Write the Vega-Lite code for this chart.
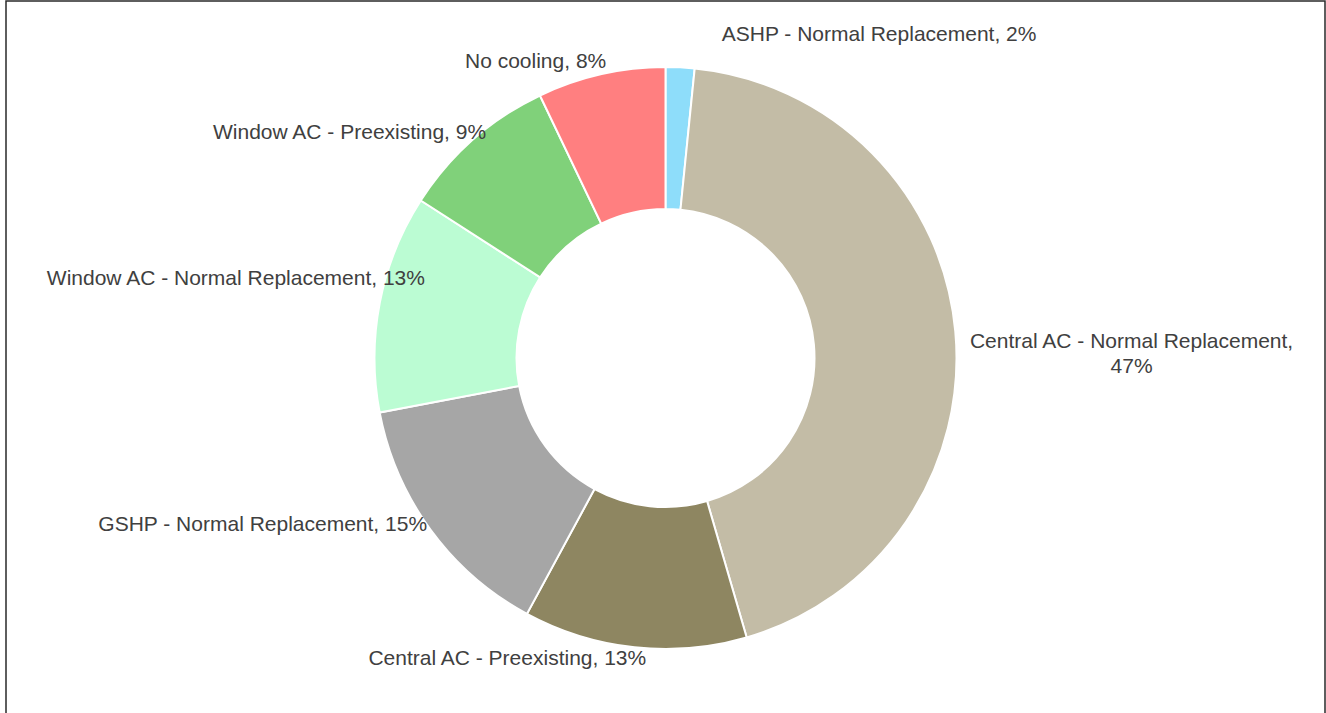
{
  "$schema": "https://vega.github.io/schema/vega-lite/v6.json",
  "width": 1319,
  "height": 714,
  "autosize": {"type": "none"},
  "padding": {"left": 6, "top": 1, "right": 1, "bottom": 0},
  "background": "white",
  "config": {
    "view": {"stroke": null},
    "text": {"font": "Liberation Sans", "fontSize": 21, "fill": "#404040"}
  },
  "datasets": {
    "slices": [
      {"idx": 1, "cat": "ASHP - Normal Replacement", "value": 1.6, "label": "ASHP - Normal Replacement, 2%"},
      {"idx": 2, "cat": "Central AC - Normal Replacement", "value": 43.9, "label": "Central AC - Normal Replacement,\n47%"},
      {"idx": 3, "cat": "Central AC - Preexisting", "value": 12.4, "label": "Central AC - Preexisting, 13%"},
      {"idx": 4, "cat": "GSHP - Normal Replacement", "value": 14.1, "label": "GSHP - Normal Replacement, 15%"},
      {"idx": 5, "cat": "Window AC - Normal Replacement", "value": 12.1, "label": "Window AC - Normal Replacement, 13%"},
      {"idx": 6, "cat": "Window AC - Preexisting", "value": 8.8, "label": "Window AC - Preexisting, 9%"},
      {"idx": 7, "cat": "No cooling", "value": 7.1, "label": "No cooling, 8%"}
    ],
    "frame": [{"name": "frame"}]
  },
  "data": {"name": "slices"},
  "layer": [
    {
      "data": {"name": "frame"},
      "mark": {"type": "rect", "fill": null, "stroke": "#2a2a2a", "strokeWidth": 1.5},
      "encoding": {}
    },
    {
      "mark": {"type": "arc", "outerRadius": 291, "innerRadius": 149, "stroke": "white", "strokeWidth": 2},
      "encoding": {
        "theta": {"field": "value", "type": "quantitative", "stack": true},
        "order": {"field": "idx", "type": "quantitative", "sort": "ascending"},
        "color": {
          "field": "cat", "type": "nominal", "legend": null,
          "scale": {
            "domain": ["ASHP - Normal Replacement", "Central AC - Normal Replacement", "Central AC - Preexisting", "GSHP - Normal Replacement", "Window AC - Normal Replacement", "Window AC - Preexisting", "No cooling"],
            "range": ["#8EDDFA", "#C3BCA6", "#8E8661", "#A6A6A6", "#BBFCD3", "#80D17A", "#FF7F80"]
          }
        }
      }
    },
    {
      "mark": {"type": "text", "align": "left", "baseline": "middle", "dx": 40},
      "encoding": {
        "theta": {"field": "value", "type": "quantitative", "stack": true},
        "order": {"field": "idx", "type": "quantitative", "sort": "ascending"},
        "radius": {"value": 323},
        "text": {"condition": {"test": "datum.idx === 1", "field": "label"}, "value": ""}
      }
    },
    {
      "mark": {"type": "text", "align": "center", "baseline": "middle", "lineBreak": "\n", "lineHeight": 25, "dy": 27},
      "encoding": {
        "theta": {"field": "value", "type": "quantitative", "stack": true},
        "order": {"field": "idx", "type": "quantitative", "sort": "ascending"},
        "radius": {"value": 468},
        "text": {"condition": {"test": "datum.idx === 2", "field": "label"}, "value": ""}
      }
    },
    {
      "mark": {"type": "text", "align": "right", "baseline": "middle", "dx": 13},
      "encoding": {
        "theta": {"field": "value", "type": "quantitative", "stack": true},
        "order": {"field": "idx", "type": "quantitative", "sort": "ascending"},
        "radius": {"value": 303},
        "text": {"condition": {"test": "datum.idx === 3", "field": "label"}, "value": ""}
      }
    },
    {
      "mark": {"type": "text", "align": "right", "baseline": "middle", "dx": -10},
      "encoding": {
        "theta": {"field": "value", "type": "quantitative", "stack": true},
        "order": {"field": "idx", "type": "quantitative", "sort": "ascending"},
        "radius": {"value": 283},
        "text": {"condition": {"test": "datum.idx === 4", "field": "label"}, "value": ""}
      }
    },
    {
      "mark": {"type": "text", "align": "right", "baseline": "middle", "dy": -32},
      "encoding": {
        "theta": {"field": "value", "type": "quantitative", "stack": true},
        "order": {"field": "idx", "type": "quantitative", "sort": "ascending"},
        "radius": {"value": 245},
        "text": {"condition": {"test": "datum.idx === 5", "field": "label"}, "value": ""}
      }
    },
    {
      "mark": {"type": "text", "align": "right", "baseline": "middle", "dx": 19},
      "encoding": {
        "theta": {"field": "value", "type": "quantitative", "stack": true},
        "order": {"field": "idx", "type": "quantitative", "sort": "ascending"},
        "radius": {"value": 300},
        "text": {"condition": {"test": "datum.idx === 6", "field": "label"}, "value": ""}
      }
    },
    {
      "mark": {"type": "text", "align": "right", "baseline": "middle", "dx": 8},
      "encoding": {
        "theta": {"field": "value", "type": "quantitative", "stack": true},
        "order": {"field": "idx", "type": "quantitative", "sort": "ascending"},
        "radius": {"value": 304},
        "text": {"condition": {"test": "datum.idx === 7", "field": "label"}, "value": ""}
      }
    }
  ]
}
